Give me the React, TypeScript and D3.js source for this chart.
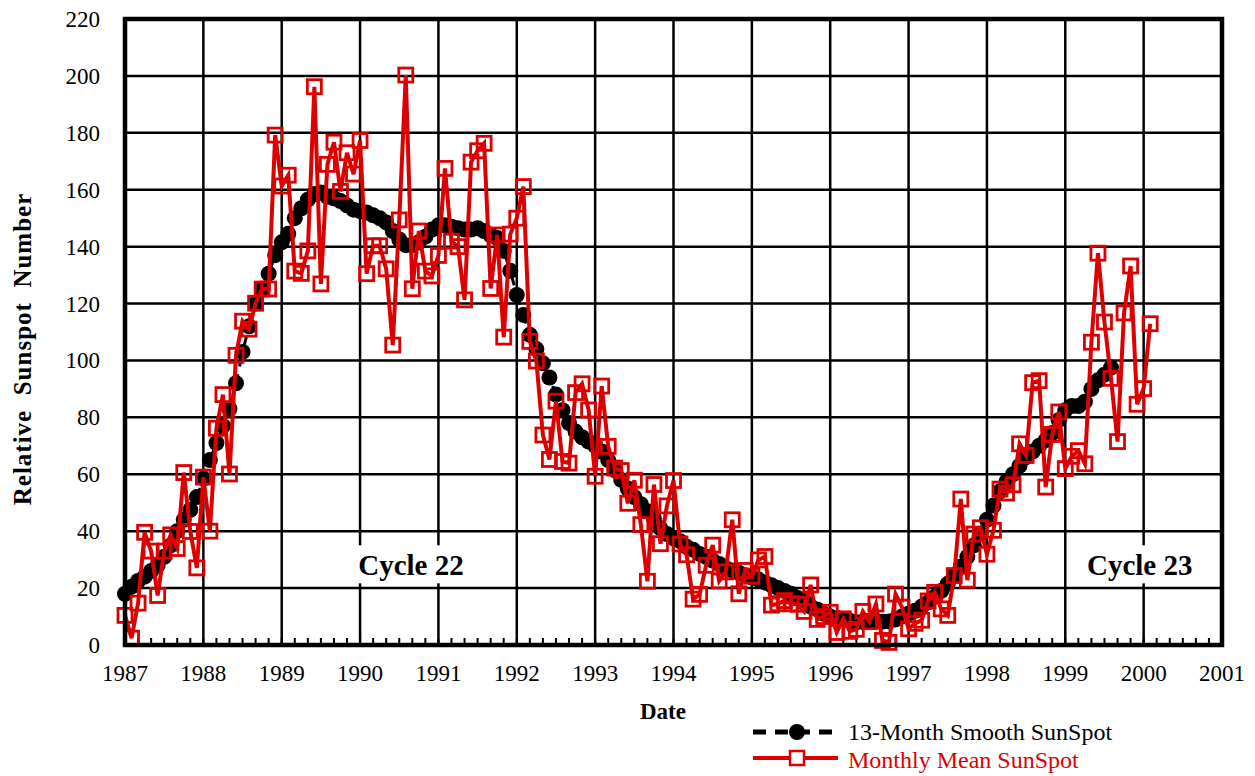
import React from 'react'
import * as d3 from 'd3'

// monthly mean sunspot numbers, Jan 1987 .. Feb 2000
const monthlyMean = [
  10.4, 2.4, 14.7, 39.6, 33.0, 17.4, 33.0, 38.7, 33.9, 60.6, 39.9, 27.1,
  59.0, 40.0, 76.2, 88.0, 60.1, 101.8, 113.8, 111.0, 120.1, 125.1, 125.1, 179.2,
  161.3, 165.1, 131.4, 130.6, 138.5, 196.2, 126.9, 168.9, 176.7, 159.4, 173.0, 165.5,
  177.3, 130.5, 140.3, 140.3, 132.2, 105.4, 149.4, 200.3, 125.2, 145.5, 131.4, 129.7,
  136.9, 167.5, 141.9, 140.0, 121.3, 169.7, 173.7, 176.3, 125.3, 144.1, 108.2, 144.4,
  150.0, 161.1, 106.7, 99.8, 73.8, 65.2, 85.7, 64.5, 63.9, 88.7, 91.8, 82.6,
  59.3, 91.0, 69.8, 62.2, 61.3, 49.8, 57.9, 42.3, 22.4, 56.4, 35.6, 48.9,
  57.8, 35.5, 31.7, 16.1, 17.8, 28.0, 35.1, 22.5, 25.7, 44.0, 18.0, 26.2,
  24.2, 29.9, 31.1, 14.0, 14.5, 15.6, 14.5, 14.3, 11.8, 21.1, 9.0, 10.0,
  11.5, 4.4, 9.2, 4.8, 5.5, 11.8, 8.2, 14.4, 1.6, 0.9, 17.9, 13.3,
  5.7, 7.6, 8.7, 15.5, 18.5, 12.7, 10.4, 24.4, 51.3, 22.8, 39.0, 41.2,
  31.9, 40.3, 54.8, 53.4, 56.3, 70.7, 66.6, 92.2, 92.9, 55.5, 74.0, 81.9,
  62.0, 66.3, 68.3, 63.7, 106.4, 137.7, 113.5, 93.7, 71.5, 116.7, 133.2, 84.6,
  90.1, 112.9,
]

// 13-month smoothed, Jan 1987 .. Aug 1999
const smoothed13 = [
  18, 20.5, 22.5, 24, 26, 28, 31, 35, 40, 44, 47.5, 52,
  58.5, 65, 71, 77, 83, 92, 103, 112, 120, 125, 130.5, 137,
  141.5, 144.5, 150, 153.5, 156.5, 158.5, 159, 157.5, 157, 156, 154.5, 153,
  152.5, 152, 151, 150, 148.5, 145.5, 142.5, 140.5, 140.5, 141.5, 143.5, 146,
  147.5, 147.5, 147, 146.5, 146, 146, 146.5, 145.5, 144, 143, 138.5, 131.5,
  123, 116, 109, 104, 99, 94, 88, 82.5, 78, 75, 73, 71.5,
  70, 68, 65, 61.5, 58, 55, 52, 49.5, 47, 44.5, 41, 39,
  37.5, 36.5, 34.5, 33.5, 32, 31, 29.7, 28.5, 27, 26.2, 25.4, 24.5,
  23.7, 23, 22, 21, 20, 19, 18, 16.5, 15.5, 13.5, 12.5, 11,
  10, 9.5, 9, 8.5, 8, 8.2, 8.5, 8.4, 8.2, 8.3, 9, 10,
  11, 12, 13.5, 15, 17, 19, 21.5, 24.5, 27.5, 31, 35, 39,
  44, 49, 54, 57.5, 60, 63, 66, 68, 70, 72, 74.5, 79,
  82.5, 84, 84, 85.5, 90, 93, 95, 97.5,
]

const startYear = 1987
const yearTicks = d3.range(1987, 2002)
const valueTicks = d3.range(0, 221, 20)
const cycleLabels = [
  { text: 'Cycle 22', year: 1990.65, value: 28 },
  { text: 'Cycle 23', year: 1999.95, value: 28 },
]

const RED = '#dd0000'
const FONT = "'Liberation Serif', 'DejaVu Serif', serif"

export default function App() {
  const x = d3.scaleLinear().domain([1987, 2001]).range([125, 1222])
  const y = d3.scaleLinear().domain([0, 220]).range([645, 19])
  const monthX = (i: number) => x(startYear + i / 12)

  const line = d3.line<number>()
    .x((d, i) => monthX(i))
    .y(d => y(d))

  const minorTicks = d3.range(1987, 2001, 1 / 6)
  const sq = 14

  return (
    <svg width={1255} height={776} style={{ position: 'absolute', left: 0, top: 0, background: '#fff', fontFamily: FONT }}>
      {/* grid */}
      {yearTicks.slice(1, -1).map(t => (
        <line key={'gx' + t} x1={x(t)} x2={x(t)} y1={y(220)} y2={y(0)} stroke="#000" strokeWidth={2.5} />
      ))}
      {valueTicks.slice(1, -1).map(v => (
        <line key={'gy' + v} x1={x(1987)} x2={x(2001)} y1={y(v)} y2={y(v)} stroke="#000" strokeWidth={2.5} />
      ))}
      {minorTicks.map((t, i) => (
        <line key={'mt' + i} x1={x(t)} x2={x(t)} y1={y(0)} y2={y(0) - 7} stroke="#000" strokeWidth={2} />
      ))}

      {/* cycle labels */}
      {cycleLabels.map(c => (
        <g key={c.text}>
          <rect x={x(c.year) - 60} y={y(c.value) - 20} width={120} height={38} fill="#fff" />
          <text x={x(c.year)} y={y(c.value) + 10} textAnchor="middle" fontWeight="bold" fontSize={29}>{c.text}</text>
        </g>
      ))}

      {/* smoothed */}
      <path d={line(smoothed13) || ''} fill="none" stroke="#000" strokeWidth={3} strokeDasharray="12,8" />
      {smoothed13.map((v, i) => (
        <circle key={'s' + i} cx={monthX(i)} cy={y(v)} r={8} fill="#000" />
      ))}

      {/* monthly mean */}
      <path d={line(monthlyMean) || ''} fill="none" stroke={RED} strokeWidth={4} strokeLinejoin="miter" />
      {monthlyMean.map((v, i) => (
        <rect key={'m' + i} x={monthX(i) - sq / 2} y={y(v) - sq / 2} width={sq} height={sq}
          fill="none" stroke={RED} strokeWidth={2.8} />
      ))}

      {/* frame */}
      <rect x={x(1987)} y={y(220)} width={x(2001) - x(1987)} height={y(0) - y(220)} fill="none" stroke="#000" strokeWidth={4.5} />

      {/* axis labels */}
      {valueTicks.map(v => (
        <text key={'yl' + v} x={100} y={y(v) + 8} textAnchor="end" fontSize={23}>{v}</text>
      ))}
      {yearTicks.map(t => (
        <text key={'xl' + t} x={x(t)} y={681} textAnchor="middle" fontSize={23}>{t}</text>
      ))}
      <text x={663} y={719} textAnchor="middle" fontWeight="bold" fontSize={23}>Date</text>
      <text transform="translate(31,349) rotate(-90)" textAnchor="middle" fontWeight="bold" fontSize={25}
        letterSpacing={1} style={{ whiteSpace: 'pre' }}>{'Relative  Sunspot  Number'}</text>

      {/* legend */}
      <line x1={753} x2={838} y1={732} y2={732} stroke="#000" strokeWidth={5} strokeDasharray="13,9" />
      <circle cx={797} cy={732} r={8} fill="#000" />
      <text x={848} y={740} fontSize={24}>13-Month Smooth SunSpot</text>
      <line x1={753} x2={838} y1={758} y2={758} stroke={RED} strokeWidth={4} />
      <rect x={790} y={751} width={14} height={14} fill="#fff" stroke={RED} strokeWidth={2.5} />
      <text x={848} y={768} fontSize={24} fill={RED}>Monthly Mean SunSpot</text>
    </svg>
  )
}
